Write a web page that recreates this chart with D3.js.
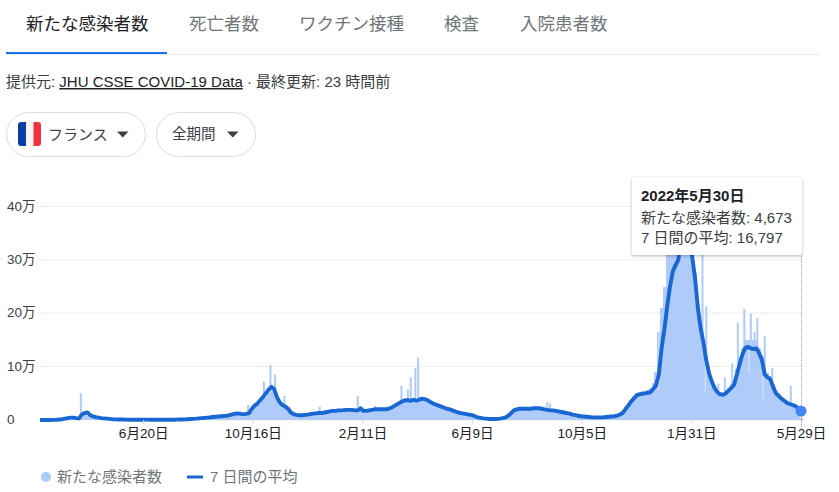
<!DOCTYPE html>
<html><head><meta charset="utf-8">
<script src="https://cdn.jsdelivr.net/npm/d3@7/dist/d3.min.js"></script>
<style>
html,body{margin:0;padding:0;background:#fff;overflow:hidden}
svg{display:block;font-family:"Liberation Sans","Noto Sans CJK JP",sans-serif}
</style></head><body>
<svg id="c" width="839" height="492"></svg>
<script>
// values in thousands of people; one sample every 3 days from the start date
const startDate = "2020-03-01";
const sampleStepDays = 3;
const avgValues = [
0,0,0,.1,.1,.2,.5,1,1.5,2.5,
3.5,4.5,4.5,3.5,3,10,13,14,9,7,
5.5,4.5,3.5,3,2.5,2,1.5,1.2,1,.9,
.8,.7,.6,.6,.5,.5,.5,.6,.7,.7,
.6,.5,.5,.5,.5,.5,.5,.6,.6,.7,
.8,1,1.2,1.5,1.8,2.2,2.5,3,3.5,4,
4.5,5,5.5,6,6.5,7,7.5,8,9,10.5,
12,12.5,11.5,11,11.5,13,21,27,31,37,
43,50,57,62,58,43,33,28,25,21,
14,11,9.5,9,9,9.5,10,11,12,12.5,
13,13,14,15,16,17,17,18,18,18.5,
19,19,19,18,18,22,17,17,18,19,
20,20,20,20,20,21,23,26,29,32,
35,37,37,36,38,36,38,40,39,37,
34,31,29,27,25,23,21,20,18,16,
14,13,12,11,10,9,7,5,4,3,
2.5,2,2,2,2,2.5,3.5,5,8,13,
18,20,21,21,21,21,21,22,22,22,
21,20,19,18,18,17,16,15,14,13,
12,10,9,8,7,6.5,6,5.5,5,5,
5,5,5,5.5,6,6.5,7,8,10,13,
20,27,34,40,46,48,49,50,51,52,
58,65,85,135,170,213,250,278,290,300,
340,362,355,335,305,265,210,172,145,112,
88,72,60,52,48,47,50,55,60,66,
85,105,123,135,137,134,133,134,125,112,
85,80,76,62,50,45,40,36,32,30,
28,26,22,16.797];
const caseValues = [
0,0,0,.1,.1,.2,.5,1,1.5,2.5,
4,5,4,3,2,3,9,8,10,8,
5,4,3,3,2,2,1,1,1,1,
.8,.7,.6,.6,.5,.5,.5,.6,.7,.7,
.6,.5,.5,.5,.5,.5,.5,.6,.6,.7,
.8,1,1.2,1.5,1.8,2.2,2.5,3,3.5,4,
5,5,6,6,7,7,8,9,9,10,
12,13,12,11,12,18,15,20,28,30,
35,44,52,58,50,40,34,27,26,24,
14,12,10,10,10,10,11,12,13,14,
14,14,15,16,17,18,18,19,19,20,
20,20,20,19,19,22,19,18,19,20,
21,21,21,21,22,24,26,28,31,35,
38,39,36,38,42,38,40,44,40,38,
36,33,30,28,26,24,22,21,19,17,
15,14,13,12,11,10,8,6,4,3,
2.5,2,2,2,2,2.5,4,6,9,15,
19,21,22,22,22,22,22,23,23,23,
22,21,20,19,19,18,17,16,15,14,
13,11,10,9,8,7,6.5,6,5.5,5,
5,5,5.5,6,7,7,8,9,12,16,
24,30,37,44,50,52,54,52,56,60,
70,90,165,210,250,330,400,400,400,400,
400,380,370,350,320,275,220,185,150,120,
92,75,63,55,52,50,54,60,68,75,
95,118,135,150,150,145,150,148,135,120,
90,88,82,68,55,50,44,40,36,33,
30,28,20,4.673];
// single-day reports standing out from the envelope
const spikeDays = [44,224,232,241,248,253,263,301,342,361,383,389,396,399,404,407,546,549,713,717,730,737,745,751,756,758,762,765,769,772,776,780,788,808];
const spikeValues = [50,28,31,72,103,85,45,25,45,27,32,64,57,80,97,117,34,31,330,213,68,80,106,182,130,208,145,199,165,191,110,157,97,64];
// single-day reports dropping under the envelope
const dipDays = [666,716,763,778];
const dipLows = [55,50,90,40];
const dipTops = [165,115,135,85];
const yTicks = [0,100,200,300,400];
const yTickLabels = ["0","10万","20万","30万","40万"];
const xTickDates = ["2020-06-20","2020-10-16","2021-02-11","2021-06-09","2021-10-05","2022-01-31","2022-05-29"];
const xTickLabels = ["6月20日","10月16日","2月11日","6月9日","10月5日","1月31日","5月29日"];
const tabLabels = ["新たな感染者数","死亡者数","ワクチン接種","検査","入院患者数"];
const seriesNames = ["新たな感染者数","7 日間の平均"];
const tooltipLines = ["2022年5月30日","新たな感染者数: 4,673","7 日間の平均: 16,797"];

const svg = d3.select("#c");
const start = new Date(startDate+"T00:00:00Z");
const dayDate = d => d3.utcDay.offset(start, d);
const x = d3.scaleUtc().domain([start, new Date("2022-05-29T00:00:00Z")]).range([40,801]);
const y = d3.scaleLinear().domain([0,400]).range([420,206.4]);
const BAR="#aecbfa", LINE="#1967d2", GRID="#ececec";

// tabs
const tabX=[26,189,299,444,520];
svg.selectAll(".tab").data(tabLabels).join("text").attr("class","tab")
  .attr("x",(d,i)=>tabX[i]).attr("y",30).attr("font-size",17.5)
  .attr("fill",(d,i)=>i?"#70757a":"#202124").text(d=>d);
svg.append("rect").attr("x",6).attr("y",54).attr("width",814).attr("height",1).attr("fill","#e8eaed");
svg.append("rect").attr("x",6).attr("y",52).attr("width",161).attr("height",2).attr("fill","#1a73e8");

// source line
const src=svg.append("text").attr("x",6).attr("y",87).attr("font-size",15).attr("fill","#3c4043");
src.append("tspan").text("提供元: ");
src.append("tspan").attr("text-decoration","underline").attr("fill","#202124").text("JHU CSSE COVID-19 Data");
src.append("tspan").text(" · 最終更新: 23 時間前");

// pills
svg.append("rect").attr("x",6.5).attr("y",112.5).attr("width",139).attr("height",44).attr("rx",22).attr("fill","#fff").attr("stroke","#dadce0");
svg.append("rect").attr("x",156.5).attr("y",112.5).attr("width",99).attr("height",44).attr("rx",22).attr("fill","#fff").attr("stroke","#dadce0");
const flag=[["#0f3ba0",18],["#f4f4f6",26],["#ef3340",33.5]];
svg.append("clipPath").attr("id","fl").append("rect").attr("x",18).attr("y",122).attr("width",23).attr("height",24).attr("rx",3);
svg.append("g").attr("clip-path","url(#fl)").selectAll("rect").data(flag).join("rect")
  .attr("x",d=>d[1]).attr("y",122).attr("width",8).attr("height",24).attr("fill",d=>d[0]);
svg.append("text").attr("x",48).attr("y",140).attr("font-size",15).attr("fill","#3c4043").text("フランス");
svg.append("text").attr("x",172).attr("y",139).attr("font-size",14.5).attr("fill","#3c4043").text("全期間");
svg.selectAll(".tri").data([117,227]).join("path").attr("class","tri")
  .attr("d",d=>`M${d},131.5h11.5l-5.75,6z`).attr("fill","#3c4043");

// grid + y axis
svg.selectAll(".grid").data(yTicks).join("line").attr("class","grid")
  .attr("x1",37).attr("x2",802).attr("y1",d=>y(d)).attr("y2",d=>y(d))
  .attr("stroke",GRID).attr("stroke-width",1);
const yAxis=svg.append("g").attr("transform","translate(36,0)")
  .call(d3.axisLeft(y).tickValues(yTicks).tickFormat((d,i)=>yTickLabels[i]).tickSize(0));
yAxis.select(".domain").remove();
yAxis.selectAll("text").attr("text-anchor","start").attr("x",-29).attr("dy",".27em")
  .attr("font-size",13.5).attr("font-family",'"Liberation Sans","Noto Sans CJK JP",sans-serif').attr("fill","#3c4043");

// bars
const plot=svg.append("g");
plot.selectAll(".b").data(caseValues).join("rect").attr("class","b")
  .attr("x",(d,i)=>x(dayDate(i*sampleStepDays))-1.6).attr("width",3.2)
  .attr("y",d=>y(d)).attr("height",d=>y(0)-y(d)).attr("fill",BAR).attr("shape-rendering","crispEdges");
plot.selectAll(".s").data(spikeValues).join("rect").attr("class","s")
  .attr("x",(d,i)=>x(dayDate(spikeDays[i]))-1).attr("width",2)
  .attr("y",d=>y(d)).attr("height",d=>y(0)-y(d)).attr("fill",BAR);
plot.selectAll(".d").data(dipLows).join("rect").attr("class","d")
  .attr("x",(d,i)=>x(dayDate(dipDays[i]))-.5).attr("width",1)
  .attr("y",(d,i)=>y(dipTops[i])).attr("height",(d,i)=>y(d)-y(dipTops[i])).attr("fill","#dbe7fd");

// x axis
const xAxis=svg.append("g").attr("transform","translate(0,420)")
  .call(d3.axisBottom(x).tickValues(xTickDates.map(d=>new Date(d+"T00:00:00Z"))).tickFormat((d,i)=>xTickLabels[i]).tickSize(4).tickPadding(4));
xAxis.select(".domain").remove();
xAxis.selectAll("line").attr("stroke","#dadce0");
xAxis.selectAll("text").attr("font-size",13.5).attr("font-family",'"Liberation Sans","Noto Sans CJK JP",sans-serif').attr("fill","#202124");

// average line
const line=d3.line().x((d,i)=>x(dayDate(i*sampleStepDays))).y(d=>y(d));
plot.append("path").datum(avgValues).attr("d",line).attr("fill","none").attr("stroke",LINE).attr("stroke-width",3.9).attr("stroke-linejoin","round");

// crosshair + dot
const endX=x(dayDate((avgValues.length-1)*sampleStepDays));
svg.append("line").attr("x1",endX+.5).attr("x2",endX+.5).attr("y1",178).attr("y2",430).attr("stroke","#9aa0a6").attr("stroke-dasharray","1,1");
svg.append("circle").attr("cx",endX).attr("cy",y(avgValues[avgValues.length-1])).attr("r",5.5).attr("fill","#4285f4");

// tooltip
const defs=svg.append("defs");
const f=defs.append("filter").attr("id","sh").attr("x","-10%").attr("y","-10%").attr("width","120%").attr("height","125%");
f.append("feDropShadow").attr("dx",0).attr("dy",1).attr("stdDeviation",1.6).attr("flood-color","#000").attr("flood-opacity",.3);
svg.append("rect").attr("x",632).attr("y",177).attr("width",170).attr("height",78).attr("rx",2).attr("fill","#fff").attr("filter","url(#sh)");
svg.selectAll(".tt").data(tooltipLines).join("text").attr("class","tt")
  .attr("x",641).attr("y",(d,i)=>[201,223,243][i]).attr("font-size",15)
  .attr("font-weight",(d,i)=>i?400:700).attr("fill",(d,i)=>i?"#3c4043":"#202124").text(d=>d);

// legend
svg.append("circle").attr("cx",46).attr("cy",477).attr("r",5).attr("fill",BAR);
svg.append("rect").attr("x",187).attr("y",475.5).attr("width",16).attr("height",3).attr("fill",LINE);
svg.selectAll(".lg").data(seriesNames).join("text").attr("class","lg")
  .attr("x",(d,i)=>[57,210][i]).attr("y",482).attr("font-size",15).attr("fill","#70757a").text(d=>d);
</script>
</body></html>
